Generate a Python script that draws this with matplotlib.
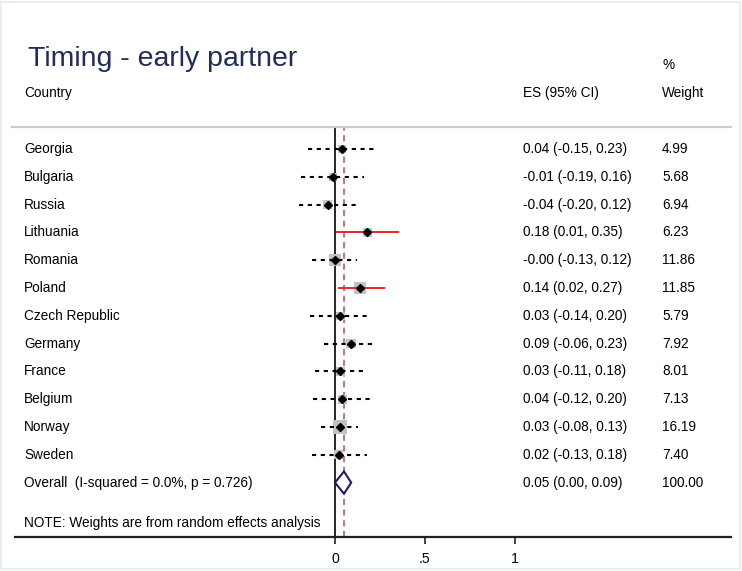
import matplotlib.pyplot as plt
from matplotlib.patches import Polygon, Rectangle

plt.rcParams['font.family'] = ['Liberation Sans', 'DejaVu Sans']

# study rows
countries = ['Georgia', 'Bulgaria', 'Russia', 'Lithuania', 'Romania', 'Poland',
             'Czech Republic', 'Germany', 'France', 'Belgium', 'Norway', 'Sweden']
es = [0.04, -0.01, -0.04, 0.18, -0.00, 0.14, 0.03, 0.09, 0.03, 0.04, 0.03, 0.02]
lo = [-0.15, -0.19, -0.20, 0.01, -0.13, 0.02, -0.14, -0.06, -0.11, -0.12, -0.08, -0.13]
hi = [0.23, 0.16, 0.12, 0.35, 0.12, 0.27, 0.20, 0.23, 0.18, 0.20, 0.13, 0.18]
weights = [4.99, 5.68, 6.94, 6.23, 11.86, 11.85, 5.79, 7.92, 8.01, 7.13, 16.19, 7.40]

# pooled estimate
overall_label = 'Overall  (I-squared = 0.0%, p = 0.726)'
overall_es, overall_lo, overall_hi = 0.05, 0.00, 0.09
overall_weight = 100.00

xticks = [0, 0.5, 1]
xticklabels = ['0', '.5', '1']

W, H = 742, 571
fig = plt.figure(figsize=(W / 100, H / 100), dpi=100)

# axes spans full width; rows are in units of row index
x0_px, px_per_unit = 335, 180
row0_px, row_h = 149, 27.8
top_px, bot_px = 127, 537


def xd(px):
    return (px - x0_px) / px_per_unit


def yr(px):
    return (px - row0_px) / row_h


ax = fig.add_axes([0, (H - bot_px) / H, 1, (bot_px - top_px) / H])
ax.set_xlim(xd(0), xd(W))
ax.set_ylim(yr(bot_px), yr(top_px))

for s in ['left', 'right']:
    ax.spines[s].set_visible(False)
ax.spines['bottom'].set_bounds(xd(15), xd(731))
ax.spines['bottom'].set_linewidth(1.6)
ax.spines['bottom'].set_color('#222222')
ax.spines['top'].set_bounds(xd(12), xd(731))
ax.spines['top'].set_linewidth(1.6)
ax.spines['top'].set_color('#cccccc')
ax.set_yticks([])
ax.set_xticks(xticks)
ax.set_xticklabels(xticklabels, fontsize=10.2)
ax.tick_params(axis='x', length=5, width=1.2, color='#222222', pad=6)

# reference lines
ax.axvline(0, color='black', lw=1.2, zorder=1)
ax.axvline(overall_es, color='#a8545c', lw=1.1, ls=(0, (4, 3)), zorder=1)


def fmt(e, l, h):
    return f'{e:.2f} ({l:.2f}, {h:.2f})'


wmax = max(weights)
for i, (e, l, h, w) in enumerate(zip(es, lo, hi, weights)):
    side = 0.5 * (w / wmax) ** 0.5
    ax.add_patch(Rectangle((e - side / 2 * row_h / px_per_unit, i - side / 2),
                           side * row_h / px_per_unit, side,
                           facecolor='#c2c2c2', edgecolor='none', zorder=2))
    if l > 0 or h < 0:
        ax.plot([l, h], [i, i], color='#e8262a', lw=1.4, zorder=3)
    else:
        ax.plot([l, h], [i, i], color='black', lw=1.5, ls=(0, (2, 2.2)), zorder=3)
    ax.plot(e, i, marker='D', ms=3.6, color='black', zorder=4)
    ax.text(xd(24), i, countries[i], va='center', fontsize=9.8)
    ax.text(xd(523), i, fmt(e, l, h), va='center', fontsize=9.8)
    ax.text(xd(662), i, f'{w:.2f}', va='center', fontsize=9.8)

# overall diamond
r = len(countries)
ax.add_patch(Polygon([(overall_lo, r), (overall_es, r - 0.4), (overall_hi, r), (overall_es, r + 0.4)],
                     closed=True, facecolor='white', edgecolor='#1c1c6e', lw=1.5, zorder=4))
ax.text(xd(24), r, overall_label, va='center', fontsize=9.8)
ax.text(xd(523), r, fmt(overall_es, overall_lo, overall_hi), va='center', fontsize=9.8)
ax.text(xd(662), r, f'{overall_weight:.2f}', va='center', fontsize=9.8)

ax.text(xd(24), yr(523), 'NOTE: Weights are from random effects analysis', va='center', fontsize=9.8)

# headers
ax.text(xd(28), yr(66), 'Timing - early partner', fontsize=20.5, color='#1f2d5c', va='baseline')
ax.text(xd(24), yr(93), 'Country', va='center', fontsize=9.8)
ax.text(xd(523), yr(93), 'ES (95% CI)', va='center', fontsize=9.8)
ax.text(xd(662), yr(65), '%', va='center', fontsize=9.8)
ax.text(xd(662), yr(93), 'Weight', va='center', fontsize=9.8)

fig.patches.append(Rectangle((0.002, 0.003), 0.995, 0.994, transform=fig.transFigure,
                             fill=False, edgecolor='#e4ecf0', lw=1.2))

fig.savefig('out.png', dpi=100)
